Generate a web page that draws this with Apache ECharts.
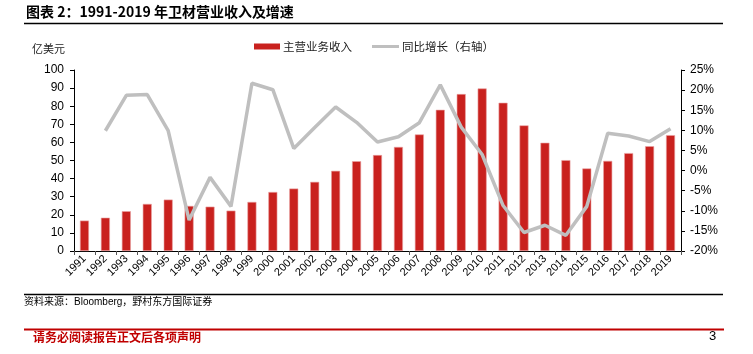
<!DOCTYPE html>
<html>
<head>
<meta charset="utf-8">
<script src="https://cdn.jsdelivr.net/npm/echarts@6/dist/echarts.min.js"></script>
<style>
  html, body { margin: 0; padding: 0; background: #fff; }
  #main { width: 753px; height: 354px; }
</style>
</head>
<body>
<div id="main"></div>
<script>
/** 1991-2019 卫材营业收入及增速 */
let years = ["1991", "1992", "1993", "1994", "1995", "1996", "1997", "1998", "1999", "2000",
	"2001", "2002", "2003", "2004", "2005", "2006", "2007", "2008", "2009", "2010",
	"2011", "2012", "2013", "2014", "2015", "2016", "2017", "2018", "2019"];
// 主营业务收入（亿美元）
let revenue = [16.8, 18.4, 22.0, 26.0, 28.4, 24.9, 24.5, 22.3, 27.1, 32.6,
	34.5, 38.2, 44.3, 49.6, 53.0, 57.5, 64.4, 78.0, 86.7, 89.8,
	81.9, 69.4, 59.8, 50.2, 45.6, 49.8, 54.1, 57.9, 64.0];
// 同比增长（%）
let growth = ["-", 9.9, 18.7, 18.9, 9.9, -12.3, -1.7, -8.9, 21.7, 20.1,
	5.5, 10.7, 15.8, 12.0, 7.1, 8.4, 11.9, 21.3, 10.8, 4.0,
	-8.7, -15.4, -13.6, -16.1, -8.9, 9.3, 8.6, 7.2, 10.4];

let font = "Arial, 'Liberation Sans', 'Noto Sans CJK SC', sans-serif";
let cjk = "'Noto Sans CJK SC', sans-serif";
let barColor = "#C9211E";
let lineColor = "#BFBFBF";

let chart = echarts.init(document.getElementById("main"));
let option = {
	animation: false,
	textStyle: { fontFamily: font },
	grid: {
		left: 74,
		right: 72,
		top: 70,
		bottom: 103,
	},
	xAxis: {
		type: "category",
		data: years,
		axisLine: { lineStyle: { color: "#000", width: 1 } },
		axisTick: { show: true, length: 4, lineStyle: { color: "#555" } },
		axisLabel: {
			rotate: 45,
			fontSize: 11,
			color: "#000",
			margin: 6,
			interval: 0,
		},
	},
	yAxis: [
		{
			type: "value",
			min: 0,
			max: 100,
			interval: 10,
			splitLine: { show: false },
			axisLine: { show: true, lineStyle: { color: "#000" } },
			axisTick: { show: true, length: 4, lineStyle: { color: "#000" } },
			axisLabel: { fontSize: 12, color: "#000", margin: 10 },
		},
		{
			type: "value",
			min: -20,
			max: 25,
			interval: 5,
			splitLine: { show: false },
			axisLine: { show: true, lineStyle: { color: "#000" } },
			axisTick: { show: true, length: 4, lineStyle: { color: "#000" } },
			axisLabel: { fontSize: 12, color: "#000", margin: 9, formatter: "{value}%" },
		},
	],
	series: [
		{
			name: "主营业务收入",
			type: "bar",
			data: revenue,
			barWidth: 9,
			itemStyle: {
				color: barColor,
				borderColor: "#E9A3A3",
				borderWidth: 0.6,
			},
			z: 1,
		},
		{
			name: "同比增长（右轴）",
			type: "line",
			yAxisIndex: 1,
			data: growth,
			symbol: "none",
			lineStyle: { color: lineColor, width: 3.5 },
			itemStyle: { color: lineColor },
			z: 2,
		},
	],
	graphic: [
		// 标题
		{
			type: "text",
			left: 26,
			top: 5,
			style: {
				text: "图表 2：1991-2019 年卫材营业收入及增速",
				font: "bold 14px " + cjk,
				fill: "#000",
			},
		},
		{
			type: "line",
			shape: { x1: 24, y1: 23.5, x2: 723, y2: 23.5 },
			style: { stroke: "#000", lineWidth: 1.5 },
		},
		{
			type: "text",
			left: 32,
			top: 43,
			style: {
				text: "亿美元",
				font: "11px " + cjk,
				fill: "#222",
			},
		},
		// 图例
		{
			type: "rect",
			shape: { x: 254, y: 43.5, width: 26, height: 6 },
			style: { fill: barColor },
		},
		{
			type: "text",
			x: 283,
			y: 46.5,
			style: {
				text: "主营业务收入",
				font: "11.5px " + cjk,
				fill: "#222",
				verticalAlign: "middle",
			},
		},
		{
			type: "line",
			shape: { x1: 372, y1: 46.5, x2: 399, y2: 46.5 },
			style: { stroke: lineColor, lineWidth: 3 },
		},
		{
			type: "text",
			x: 402,
			y: 46.5,
			style: {
				text: "同比增长（右轴）",
				font: "11.5px " + cjk,
				fill: "#222",
				verticalAlign: "middle",
			},
		},
		// 底部
		{
			type: "line",
			shape: { x1: 24, y1: 294.5, x2: 723, y2: 294.5 },
			style: { stroke: "#000", lineWidth: 1.5 },
		},
		{
			type: "text",
			left: 24,
			top: 297,
			style: {
				text: "资料来源：Bloomberg，野村东方国际证券",
				font: "10px " + font,
				fill: "#000",
			},
		},
		{
			type: "line",
			shape: { x1: 24, y1: 329.5, x2: 724, y2: 329.5 },
			style: { stroke: "#C00000", lineWidth: 2 },
		},
		{
			type: "text",
			left: 33,
			top: 331,
			style: {
				text: "请务必阅读报告正文后各项声明",
				font: "bold 12px " + cjk,
				fill: "#C00000",
			},
		},
		{
			type: "text",
			left: 709,
			top: 330,
			style: {
				text: "3",
				font: "13px " + font,
				fill: "#000",
			},
		},
	],
};
chart.setOption(option);
</script>
</body>
</html>
